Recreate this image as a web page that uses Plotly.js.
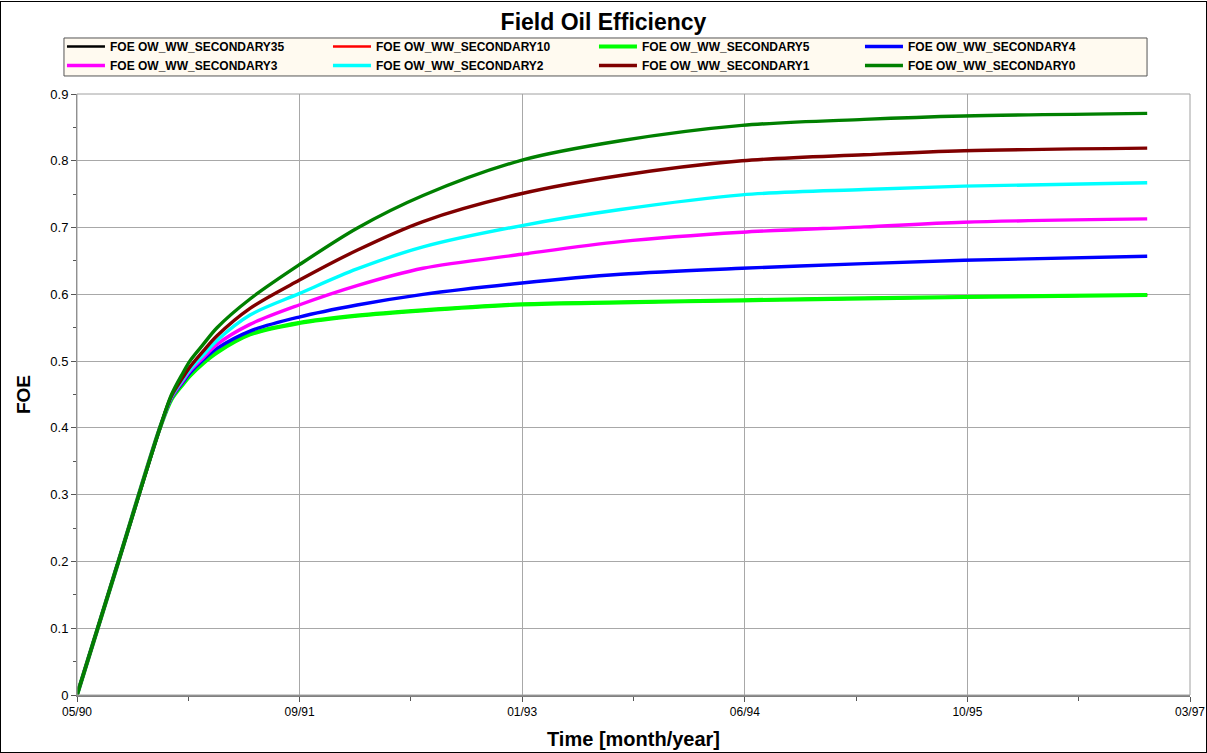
<!DOCTYPE html>
<html>
<head>
<meta charset="utf-8">
<script src="https://cdn.plot.ly/plotly-3.0.1.min.js"></script>
<style>
html,body{margin:0;padding:0;background:#fff;}
#wrap{position:relative;width:1207px;height:753px;}
#chart{width:1207px;height:753px;}
#frame{position:absolute;left:0;top:1px;width:1205px;height:750px;border:1px solid #000;pointer-events:none;}
</style>
</head>
<body>
<div id="wrap"><div id="chart"></div><div id="frame"></div></div>
<script>
// Time samples
const dates = ['1990-05-01','1990-08-01','1990-11-03','1990-11-29','1990-12-25','1991-01-09','1991-02-08','1991-03-11',
               '1991-05-24','1991-09-11','1992-01-19','1992-06-15','1993-01-23','1993-09-01','1994-05-31','1995-03-01',
               '1995-10-11','1996-11-25'];

// FOE values
const sec0  = [0, 0.198, 0.400, 0.450, 0.483, 0.500, 0.525, 0.550, 0.593, 0.644, 0.699, 0.748, 0.801, 0.830, 0.853, 0.862, 0.867, 0.871];
const sec1  = [0, 0.198, 0.400, 0.448, 0.476, 0.491, 0.515, 0.538, 0.579, 0.621, 0.666, 0.709, 0.751, 0.778, 0.800, 0.809, 0.815, 0.819];
const sec2  = [0, 0.198, 0.400, 0.447, 0.473, 0.487, 0.509, 0.531, 0.569, 0.601, 0.638, 0.671, 0.703, 0.727, 0.749, 0.757, 0.762, 0.767];
const sec3  = [0, 0.198, 0.400, 0.446, 0.471, 0.485, 0.505, 0.525, 0.555, 0.584, 0.613, 0.639, 0.660, 0.679, 0.693, 0.701, 0.708, 0.713];
const sec4  = [0, 0.198, 0.400, 0.445, 0.469, 0.482, 0.502, 0.519, 0.545, 0.566, 0.584, 0.600, 0.617, 0.630, 0.639, 0.646, 0.651, 0.657];
const sec5  = [0, 0.198, 0.400, 0.443, 0.466, 0.478, 0.497, 0.513, 0.540, 0.557, 0.568, 0.576, 0.585, 0.588, 0.591, 0.594, 0.596, 0.599];
const sec10 = [0, 0.198, 0.400, 0.443, 0.466, 0.478, 0.497, 0.513, 0.540, 0.557, 0.568, 0.576, 0.585, 0.588, 0.591, 0.594, 0.596, 0.599];
const sec35 = [0, 0.198, 0.400, 0.443, 0.466, 0.478, 0.497, 0.513, 0.540, 0.557, 0.568, 0.576, 0.585, 0.588, 0.591, 0.594, 0.596, 0.599];

const names = ['FOE OW_WW_SECONDARY35','FOE OW_WW_SECONDARY10','FOE OW_WW_SECONDARY5','FOE OW_WW_SECONDARY4',
               'FOE OW_WW_SECONDARY3','FOE OW_WW_SECONDARY2','FOE OW_WW_SECONDARY1','FOE OW_WW_SECONDARY0'];
const series = [sec35, sec10, sec5, sec4, sec3, sec2, sec1, sec0];
const colors = ['#000000','#ff0000','#00ff00','#0000ff','#ff00ff','#00ffff','#800000','#008000'];
const widths = [2.6, 2.6, 4.2, 3.4, 3.4, 3.4, 3.4, 3.4];

const DAY = 86400000;
const traces = series.map((s,i)=>({
  x: dates, y: s, name: names[i], type:'scatter', mode:'lines',
  line:{color:colors[i], width:widths[i], shape:'spline', smoothing:0.9}
}));

const font = 'Arial, "Liberation Sans", sans-serif';
const layout = {
  width:1207, height:753,
  paper_bgcolor:'#ffffff', plot_bgcolor:'#ffffff',
  margin:{l:77, r:17, t:94, b:58},
  font:{family:font, color:'#000'},
  title:{text:'<b>Field Oil Efficiency</b>', font:{size:23, family:font, color:'#000'}, x:0.5, xanchor:'center', y:0.9708, yanchor:'middle'},
  showlegend:true,
  legend:{orientation:'h', x:-0.0135, xanchor:'left', y:1.0233, yanchor:'bottom',
    bgcolor:'rgba(0,0,0,0)', borderwidth:0,
    font:{size:12, family:font, color:'#000', weight:'bold'},
    entrywidth:213, entrywidthmode:'pixels', tracegroupgap:0, itemwidth:38, traceorder:'normal'},
  xaxis:{
    type:'date', range:['1990-05-01','1997-03-01'],
    tick0:'1990-05-01', dtick:499.2*DAY, tickformat:'%m/%y',
    ticks:'outside', ticklen:5, tickcolor:'#555', tickfont:{size:12, color:'#000'},
    minor:{tick0:'1990-05-01', dtick:249.6*DAY, ticks:'outside', ticklen:4, tickcolor:'#555', showgrid:false},
    showgrid:true, gridcolor:'#a8a8a8', gridwidth:1,
    showline:true, linecolor:'#808080', linewidth:2, mirror:false, zeroline:false,
    title:{text:'<b>Time [month/year]</b>', font:{size:20, family:font, color:'#000'}, standoff:14}
  },
  yaxis:{
    range:[0,0.9], dtick:0.1, tick0:0,
    ticks:'outside', ticklen:5, tickcolor:'#555', tickfont:{size:13, color:'#000'},
    minor:{dtick:0.05, ticks:'outside', ticklen:3, tickcolor:'#555', showgrid:false},
    showgrid:true, gridcolor:'#a8a8a8', gridwidth:1,
    showline:true, linecolor:'#808080', linewidth:1, zeroline:false,
    title:{text:'<b>FOE</b>', font:{size:19, color:'#000'}, standoff:14}
  },
  shapes:[
    {type:'rect', xref:'paper', yref:'paper', x0:0, x1:1, y0:0, y1:1, line:{color:'#a0a0a0', width:1}, fillcolor:'rgba(0,0,0,0)', layer:'above'},
    {type:'rect', xref:'paper', yref:'paper', x0:-0.0117, x1:0.9614, y0:1.03, y1:1.0932, line:{color:'#555555', width:1}, fillcolor:'#fffaf0', layer:'below'}
  ]
};

Plotly.newPlot('chart', traces, layout, {displayModeBar:false, staticPlot:true});
</script>
</body>
</html>
